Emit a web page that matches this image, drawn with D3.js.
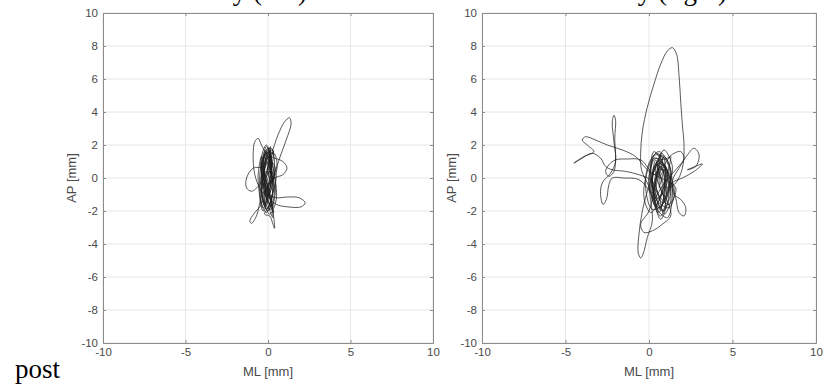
<!DOCTYPE html>
<html>
<head>
<meta charset="utf-8">
<script src="https://cdn.jsdelivr.net/npm/d3@7"></script>
<style>
  body { margin: 0; background: #fff; }
  svg { display: block; }
  .tick text { font-family: "Liberation Sans", Arial, sans-serif; font-size: 11.5px; fill: #4a4a4a; }
</style>
</head>
<body>
<svg id="chart" width="824" height="387"></svg>
<script>
// axis ticks
const xTicks = [-10, -5, 0, 5, 10]
const yTicks = [-10, -8, -6, -4, -2, 0, 2, 4, 6, 8, 10]
// titles sit above the image edge, only the descenders show
const titles = ["Postural stability (left)", "Postural stability (right)"]

// centre of pressure path, left stance [ML mm, AP mm]
const leftSway = [
  [0.0, 0.2], [0.2, 1.2], [-0.1, 1.9], [-0.3, 0.8], [0.1, -0.9], [0.3, -1.8], [-0.1, -1.2], [-0.4, 0.4],
  [-0.2, 1.6], [0.2, 1.8], [0.4, 0.5], [0.1, -1.0], [-0.3, -2.0], [-0.5, -0.8], [-0.2, 0.9],
  [0.2, 1.5], [0.6, 2.6], [1.0, 3.4], [1.3, 3.65], [1.4, 3.3], [1.1, 2.3], [0.7, 1.2], [0.4, 0.3],
  [0.1, -0.6], [-0.2, -1.6], [-0.1, -0.4], [0.2, 0.9], [0.0, 1.7], [-0.3, 1.0], [-0.4, -0.5],
  [-0.1, -1.9], [0.2, -1.3], [0.3, 0.2],
  [0.0, 1.2], [-0.4, 2.0], [-0.6, 2.4], [-0.8, 2.2], [-0.9, 1.4], [-0.8, 0.2], [-0.5, -0.6],
  [-0.2, -1.0], [0.1, -0.2], [0.2, 1.0], [-0.1, 1.6], [-0.3, 0.6], [-0.2, -0.8], [0.2, -1.7],
  [0.4, -0.5], [0.1, 0.6],
  [0.15, 1.9], [-0.25, 0.2], [0.05, -1.5], [0.35, -2.1], [0.0, -0.9], [-0.45, 0.9], [-0.1, 2.0],
  [0.25, 1.0], [0.45, -0.8], [0.15, -1.9], [-0.35, -1.2], [-0.5, 0.2], [-0.15, 1.4], [0.3, 1.7],
  [0.1, 0.0], [-0.2, -1.4], [0.1, -2.2], [0.5, -1.3], [0.3, 0.6], [-0.05, 1.6],
  [-0.3, 0.7], [-0.9, 0.6], [-1.3, 0.0], [-1.3, -0.6], [-1.0, -0.8], [-0.5, -0.4], [-0.1, 0.3],
  [0.3, 0.9], [0.5, 0.1], [0.2, -1.2], [-0.1, -2.1], [-0.4, -1.5], [-0.3, 0.0], [0.0, 1.3],
  [0.4, 1.2], [0.9, 1.0], [1.15, 0.6], [0.9, 0.2], [0.4, 0.0], [0.0, -0.5], [-0.3, -1.4],
  [0.0, -2.0], [0.3, -0.9], [0.2, 0.5], [-0.1, 1.5], [-0.4, 0.9], [-0.3, -0.6],
  [-0.4, 1.3], [-0.6, 0.0], [-0.3, -1.8], [0.05, -1.0], [0.2, 0.4], [-0.15, 1.2], [0.35, 1.5],
  [0.55, 0.6], [0.2, -0.3], [-0.25, -0.9],
  [0.0, -1.0], [0.5, -1.2], [1.2, -1.15], [1.9, -1.2], [2.25, -1.5], [2.0, -1.75], [1.2, -1.75],
  [0.5, -1.6], [0.1, -1.2], [-0.2, -0.3], [0.1, 1.0], [0.3, 1.6], [0.0, 0.5], [-0.3, -1.0],
  [-0.4, -1.6], [-0.8, -2.1], [-1.1, -2.6], [-1.0, -2.75], [-0.7, -2.3], [-0.5, -1.5], [-0.3, -0.5],
  [0.1, 0.4], [0.3, -0.6], [0.1, -1.6], [-0.2, -2.2],
  [0.1, -2.3], [0.3, -2.8], [0.4, -3.05], [0.35, -2.4], [0.2, -1.4], [-0.1, -0.2], [-0.3, 1.1],
  [0.0, 1.8], [0.2, 0.6], [0.0, -0.7], [-0.2, -1.7], [-0.4, -0.7], [-0.2, 0.6], [0.1, 1.4],
  [-0.05, 0.5], [0.15, 1.7], [-0.2, 1.0], [0.0, -1.6], [0.3, -2.4], [0.1, -1.1], [-0.3, 0.3],
  [0.3, 0.3], [0.0, -0.4], [-0.2, 0.5], [0.1, 1.1], [0.2, -0.2], [-0.1, -1.3], [0.2, -0.6], [0.0, 0.3]
]

// centre of pressure path, right stance [ML mm, AP mm]
const rightSway = [
  [0.5, 0.0], [0.8, 1.2], [0.4, 1.5], [0.1, 0.3], [0.4, -1.2], [0.9, -2.0], [1.2, -0.8], [0.8, 0.9],
  [0.3, 1.2], [0.0, -0.2], [0.3, -1.6], [0.7, -2.3], [1.1, -1.0], [1.3, 0.5], [0.9, 1.3], [0.5, 0.2],
  [0.2, -0.9],
  [-0.1, -0.3], [-0.45, 0.5], [-0.5, 1.5], [-0.4, 2.8], [-0.1, 4.3], [0.3, 5.7], [0.7, 6.9],
  [1.1, 7.7], [1.4, 7.9], [1.65, 7.5], [1.8, 6.2], [1.9, 4.6], [2.0, 3.2], [2.1, 1.9], [2.0, 0.6],
  [1.6, -0.3], [1.1, -0.6], [0.7, 0.1],
  [0.4, 1.1], [0.2, -0.5], [0.6, -1.8], [1.0, -1.2], [0.9, 0.6], [0.5, 1.0], [0.2, -0.4],
  [0.5, -1.4], [1.2, -1.8], [1.5, -0.6],
  [0.3, 1.6], [0.1, 0.2], [0.5, -1.9], [1.1, -2.4], [1.4, -1.1], [1.2, 0.8], [0.6, 1.6], [0.0, 0.9],
  [-0.2, -0.6], [0.2, -1.9], [0.9, -1.5], [1.5, 0.1],
  [1.8, 0.6], [2.3, 1.4], [2.7, 1.8], [3.0, 1.4], [2.8, 0.7], [2.3, 0.5], [3.2, 0.85], [2.7, 0.4],
  [2.0, 0.0], [1.4, -0.3],
  [1.5, -1.0], [1.9, -1.3], [2.2, -1.8], [2.1, -2.3], [1.8, -2.1], [1.6, -1.2], [1.3, -0.2], [0.9, 0.8],
  [0.5, 0.3], [0.3, -1.0], [0.6, -2.1], [0.9, -1.0], [0.8, 0.5], [0.4, 0.8], [0.1, -0.6], [0.4, -1.7],
  [1.3, 1.3], [0.7, 0.4], [0.4, -0.9], [0.8, -2.0], [1.3, -0.9], [1.0, 0.6], [0.4, 1.2], [0.0, 0.0],
  [0.2, -2.6], [-0.1, -3.6], [-0.35, -4.6], [-0.5, -4.85], [-0.65, -4.5], [-0.6, -3.4], [-0.4, -2.0],
  [-0.1, -0.8], [0.3, 0.4], [0.7, 1.5], [0.6, 0.7], [0.3, -0.7],
  [0.0, -2.0], [-0.5, -2.8], [-0.3, -3.3], [0.2, -3.2], [0.8, -2.8], [1.3, -2.3], [1.1, -1.4], [0.7, -0.7],
  [0.4, 0.6], [0.8, 1.4], [1.0, 0.3], [0.6, -1.3], [0.2, -0.2], [0.5, 1.0], [1.1, 1.2], [1.5, 1.5],
  [1.9, 1.6], [2.1, 1.2], [1.6, 0.5], [1.0, -0.2],
  [0.3, -1.4], [0.9, -0.8], [1.1, 0.4], [0.6, 0.9], [0.2, -0.1], [0.7, -1.2], [1.2, -1.6], [1.6, -0.6],
  [0.2, 0.3], [-0.5, 1.1], [-1.3, 1.15], [-2.0, 1.1], [-2.4, 0.8], [-2.6, 0.4], [-2.4, 0.1], [-2.1, 0.4],
  [-2.0, 1.2], [-2.05, 2.4], [-2.0, 3.5], [-2.1, 3.8], [-2.2, 3.4], [-2.1, 2.2], [-2.0, 1.0], [-2.3, 0.3],
  [-2.8, -0.3], [-2.9, -1.0], [-2.75, -1.6], [-2.55, -1.3], [-2.4, -0.4], [-2.2, 0.0], [-1.5, 0.0],
  [-0.6, -0.1],
  [0.1, -0.9], [0.6, -1.9], [1.0, -0.6], [0.7, 0.7], [0.3, 0.2], [-0.2, 0.6], [-0.8, 1.3], [-1.6, 1.7],
  [-2.5, 2.0], [-3.2, 2.3], [-3.8, 2.5], [-4.0, 2.3], [-3.7, 2.0], [-3.3, 1.6], [-3.9, 1.3], [-4.5, 0.9],
  [-4.0, 1.2], [-3.4, 1.5], [-2.9, 1.2], [-2.6, 0.7], [-2.2, 0.5], [-1.4, 0.4], [-0.6, 0.2], [0.2, -0.2],
  [0.6, -1.1], [0.9, -2.2], [1.3, -1.4], [1.1, 0.2], [0.7, 1.0], [0.4, -0.3], [0.8, -1.5], [1.2, -0.4],
  [1.4, 0.7], [0.9, 1.7], [0.5, 0.6], [0.8, -0.4], [0.5, -1.6], [0.1, -2.1], [-0.3, -1.2], [-0.1, 0.4],
  [0.4, 1.4], [1.0, 1.1], [1.3, -0.2], [0.9, -1.3],
  [0.9, 0.5], [0.5, 0.4], [0.3, -1.3], [0.7, -2.5], [1.0, -1.7], [0.6, -0.2], [0.9, 0.5], [0.6, -0.6]
]

const svg = d3.select("#chart")

const panels = [
  { data: leftSway, left: 103, right: 433, top: 13, bottom: 343, titleX: 307, ylabX: 71 },
  { data: rightSway, left: 482, right: 816, top: 13, bottom: 343, titleX: 727, ylabX: 451 }
]

panels.forEach(function(p, i) {
  const x = d3.scaleLinear().domain([-10, 10]).range([p.left, p.right])
  const y = d3.scaleLinear().domain([-10, 10]).range([p.bottom, p.top])
  const h = p.bottom - p.top

  // grid
  const grid = svg.append("g")
  grid.selectAll(".gx").data(xTicks).enter().append("line")
    .attr("x1", d => x(d)).attr("x2", d => x(d))
    .attr("y1", p.top).attr("y2", p.bottom)
    .attr("stroke", "#e6e6e6").attr("stroke-width", 1)
  grid.selectAll(".gy").data(yTicks).enter().append("line")
    .attr("x1", p.left).attr("x2", p.right)
    .attr("y1", d => y(d)).attr("y2", d => y(d))
    .attr("stroke", "#e6e6e6").attr("stroke-width", 1)

  // trajectory
  const line = d3.line()
    .x(d => x(d[0])).y(d => y(d[1]))
    .curve(d3.curveCatmullRom.alpha(0.5))
  svg.append("path")
    .datum(p.data)
    .attr("d", line)
    .attr("fill", "none")
    .attr("stroke", "#1a1a1a")
    .attr("stroke-width", 0.8)
    .attr("stroke-opacity", 0.9)
    .attr("stroke-linejoin", "round")

  // axes, ticks pointing in like matlab
  const styleAxis = g => {
    g.select(".domain").attr("stroke", "#8c8c8c")
    g.selectAll(".tick line").attr("stroke", "#8c8c8c")
  }
  svg.append("g").attr("transform", "translate(0," + p.bottom + ")")
    .call(d3.axisBottom(x).tickValues(xTicks).tickSizeInner(-3).tickSizeOuter(0).tickPadding(5))
    .call(styleAxis)
  svg.append("g").attr("transform", "translate(0," + p.top + ")")
    .call(d3.axisTop(x).tickValues(xTicks).tickSizeInner(-3).tickSizeOuter(0).tickFormat(""))
    .call(styleAxis)
  svg.append("g").attr("transform", "translate(" + p.left + ",0)")
    .call(d3.axisLeft(y).tickValues(yTicks).tickSizeInner(-3).tickSizeOuter(0).tickPadding(5))
    .call(styleAxis)
  svg.append("g").attr("transform", "translate(" + p.right + ",0)")
    .call(d3.axisRight(y).tickValues(yTicks).tickSizeInner(-3).tickSizeOuter(0).tickFormat(""))
    .call(styleAxis)
  svg.selectAll(".tick text").text(function() { return d3.select(this).text().replace("−", "-") })

  // axis labels
  svg.append("text")
    .attr("x", (p.left + p.right) / 2).attr("y", p.bottom + 33)
    .attr("text-anchor", "middle")
    .style("font-family", "Liberation Sans, Arial, sans-serif").style("font-size", "13px")
    .attr("fill", "#4a4a4a")
    .text("ML [mm]")
  svg.append("text")
    .attr("transform", "translate(" + p.ylabX + "," + (p.top + h / 2) + ") rotate(-90)")
    .attr("text-anchor", "middle")
    .attr("dy", "0.35em")
    .style("font-family", "Liberation Sans, Arial, sans-serif").style("font-size", "13px")
    .attr("fill", "#4a4a4a")
    .text("AP [mm]")

  // title, mostly cut off at the top of the image
  svg.append("text")
    .attr("x", p.titleX).attr("y", 0)
    .attr("text-anchor", "end")
    .style("font-family", "Liberation Serif, Times New Roman, serif").style("font-size", "27px")
    .attr("fill", "#000")
    .text(titles[i])
})

svg.append("text")
  .attr("x", 15).attr("y", 378)
  .style("font-family", "Liberation Serif, Times New Roman, serif").style("font-size", "27px")
  .attr("fill", "#000")
  .text("post")
</script>
</body>
</html>
